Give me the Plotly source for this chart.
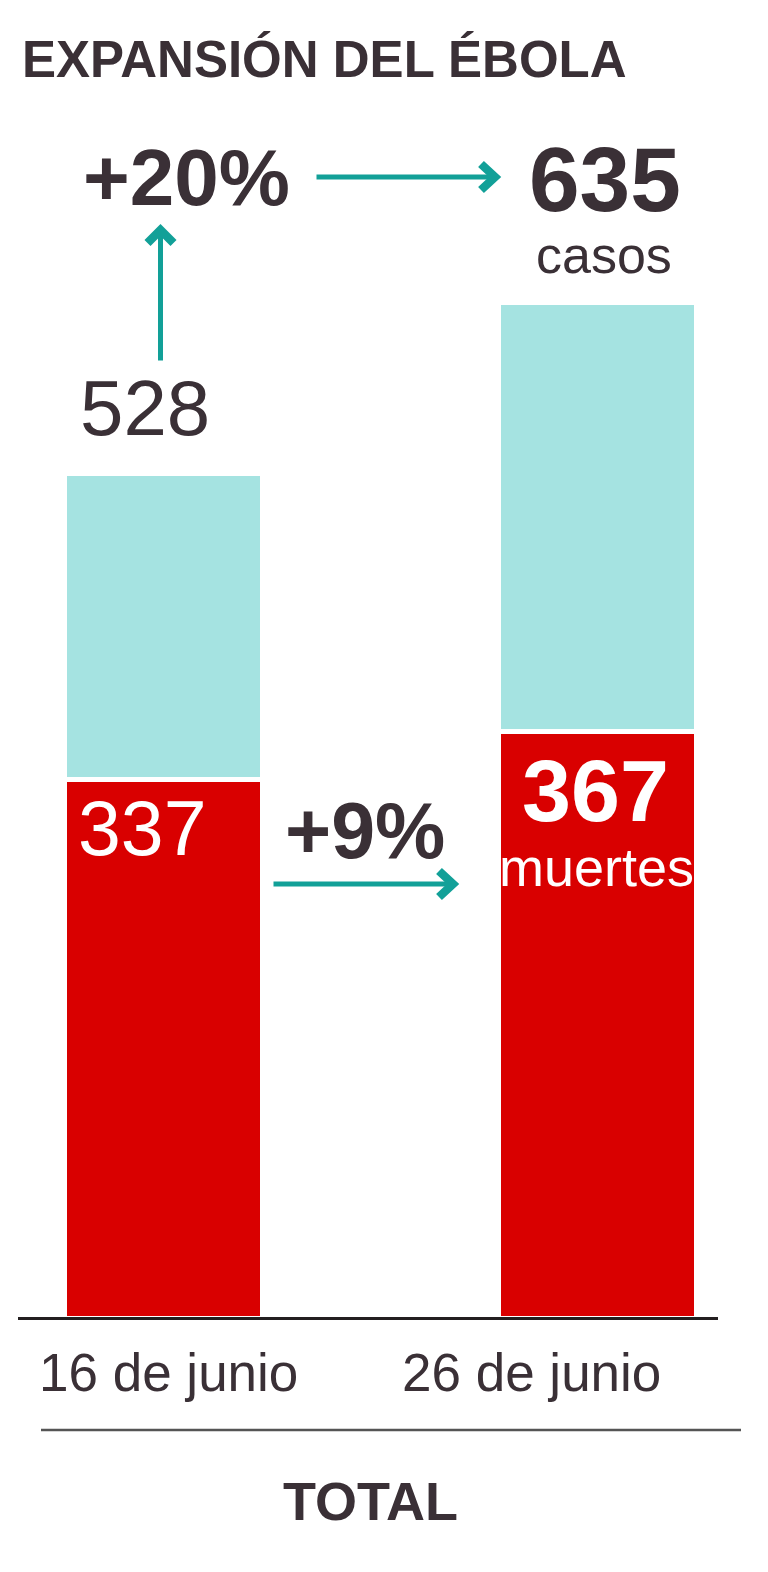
"""Ebola expansion: stacked bars of deaths and other cases, two dates."""

import plotly.graph_objects as go

W, H = 768, 1572
OFF = 8  # the page body margin shifts the figure by 8 px
FONT = "Liberation Sans, Arial, sans-serif"
DARK = "#3a3036"
RED = "#d90000"
TEAL_LIGHT = "#a5e3e1"
TEAL = "#12a098"

dates = ["16 de junio", "26 de junio"]
deaths = [337, 367]
total_cases = [528, 635]
deaths_change = "+9%"
cases_change = "+20%"

other_cases = [t - d for t, d in zip(total_cases, deaths)]
bar_x = [0, 1]


def px(x, y):
    """Pixel position on the page -> paper coordinates."""
    return (x - OFF) / W, 1 - (y - OFF) / H


def label(text, x, y, size, bold=False, color=DARK, xanchor="center"):
    xp, yp = px(x, y)
    return dict(
        text=f"<b>{text}</b>" if bold else text,
        x=xp, y=yp, xref="paper", yref="paper",
        xanchor=xanchor, yanchor="middle", showarrow=False,
        font=dict(family=FONT, size=size, color=color),
    )


def shaft(head, tail):
    xp, yp = px(*head)
    return dict(
        text="", x=xp, y=yp, xref="paper", yref="paper",
        ax=tail[0] - head[0], ay=tail[1] - head[1], axref="pixel", ayref="pixel",
        showarrow=True, arrowhead=0, arrowwidth=5, arrowcolor=TEAL, standoff=0,
    )


def chevron(points):
    """Thick open arrow head drawn as a stroked path (paper coords)."""
    pts = [px(x, y) for x, y in points]
    path = "M {} {} L {} {} L {} {}".format(*[c for p in pts for c in p])
    return dict(type="path", xref="paper", yref="paper", path=path,
                line=dict(color=TEAL, width=8.5))


fig = go.Figure()
fig.add_trace(go.Bar(
    x=bar_x, y=deaths, width=0.456,
    marker=dict(color=RED, line=dict(color="white", width=5)),
    hoverinfo="skip",
))
fig.add_trace(go.Bar(
    x=bar_x, y=other_cases, width=0.456,
    marker=dict(color=TEAL_LIGHT, line=dict(color="white", width=5)),
    hoverinfo="skip",
))

annotations = [
    label("EXPANSIÓN DEL ÉBOLA", 20, 59, 51, bold=True, xanchor="left"),
    label(cases_change, 186, 177, 80, bold=True),
    label(str(total_cases[1]), 605, 179, 91, bold=True),
    label("casos", 604, 255, 52),
    label(str(total_cases[0]), 145, 408, 78),
    label(str(deaths[0]), 142, 828, 77, color="white"),
    label(str(deaths[1]), 595, 790, 88, bold=True, color="white"),
    label("muertes", 596, 867, 54, color="white"),
    label(deaths_change, 365, 830, 79, bold=True),
    label(dates[0], 168, 1372, 53),
    label(dates[1], 531, 1372, 53),
    label("TOTAL", 370, 1501, 54, bold=True),
    shaft((492, 177), (315, 177)),
    shaft((160.5, 235), (160.5, 362)),
    shaft((450, 884), (272, 884)),
]

# x=0 sits at page pixel 163.5, bars 434 px apart; y=0 at pixel 1318.5, 1.6 px per case
x0_px, x_step = 163.5 - OFF, 434
y0_px, y_step = 1318.5 - OFF, 1.6

fig.update_layout(
    width=W, height=H,
    margin=dict(l=0, r=0, t=0, b=0),
    barmode="stack",
    showlegend=False,
    paper_bgcolor="white",
    plot_bgcolor="white",
    xaxis=dict(range=[-x0_px / x_step, (W - x0_px) / x_step], visible=False, fixedrange=True),
    yaxis=dict(range=[-(H - y0_px) / y_step, y0_px / y_step], visible=False, fixedrange=True),
    annotations=annotations,
    shapes=[
        # baseline under the bars
        dict(type="line", xref="paper", yref="y", x0=px(18, 0)[0], x1=px(718, 0)[0], y0=0, y1=0,
             line=dict(color="#231f20", width=3)),
        # separator above "TOTAL"
        dict(type="line", xref="paper", yref="paper", x0=px(41, 0)[0], x1=px(741, 0)[0],
             y0=px(0, 1430)[1], y1=px(0, 1430)[1], line=dict(color="#555555", width=2.5)),
        # arrow heads
        chevron([(481, 164), (495, 177), (481, 190)]),
        chevron([(147.5, 243), (160.5, 230), (173.5, 243)]),
        chevron([(439, 871), (453, 884), (439, 897)]),
    ],
)

fig.write_html("out.html")
